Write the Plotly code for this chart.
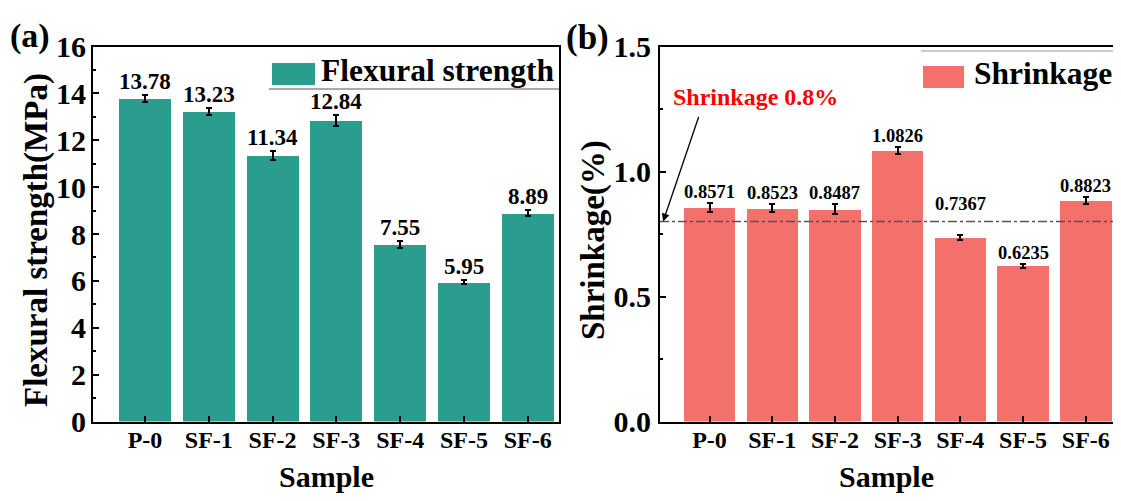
import plotly.graph_objects as go

# ---------------- data ----------------
samples = ["P-0", "SF-1", "SF-2", "SF-3", "SF-4", "SF-5", "SF-6"]
flexural = [13.78, 13.23, 11.34, 12.84, 7.55, 5.95, 8.89]
flexural_err = [0.15, 0.15, 0.20, 0.25, 0.15, 0.08, 0.12]
flexural_labels = ["13.78", "13.23", "11.34", "12.84", "7.55", "5.95", "8.89"]
shrinkage = [0.8571, 0.8523, 0.8487, 1.0826, 0.7367, 0.6235, 0.8823]
shrinkage_err = [0.018, 0.016, 0.020, 0.014, 0.010, 0.008, 0.014]
shrinkage_labels = ["0.8571", "0.8523", "0.8487", "1.0826", "0.7367", "0.6235", "0.8823"]
flex_ticks = [0, 2, 4, 6, 8, 10, 12, 14, 16]
shr_ticks = [0.0, 0.5, 1.0, 1.5]
shr_tick_text = ["0.0", "0.5", "1.0", "1.5"]
shrink_limit = 0.8

# page body has an 8px margin all round: size the figure so the page never overflows
OFF = 8
W, H = 1121 - 2 * OFF, 501 - 2 * OFF
FONT = "Liberation Serif"
TEAL = "#2A9D8F"
SALMON = "#F4716B"


def px(x):
    """screen x (px) -> paper fraction"""
    return (x - OFF) / W


def py(y):
    """screen y (px) -> paper fraction"""
    return 1 - (y - OFF) / H


fig = go.Figure()

fig.add_trace(go.Bar(
    x=samples, y=flexural, marker=dict(color=TEAL, line=dict(width=0)),
    width=0.815, xaxis="x", yaxis="y", showlegend=False,
    error_y=dict(type="data", array=flexural_err, color="black", thickness=2, width=3),
))
fig.add_trace(go.Bar(
    x=samples, y=shrinkage, marker=dict(color=SALMON, line=dict(width=0)),
    width=0.82, xaxis="x2", yaxis="y2", showlegend=False,
    error_y=dict(type="data", array=shrinkage_err, color="black", thickness=2, width=3),
))

ydom = [py(421.5), py(46.5)]
axis_common = dict(showline=True, linecolor="black", linewidth=2, showgrid=False,
                   zeroline=False, ticks="inside", tickcolor="black", tickwidth=2,
                   automargin=False)
tickfont = dict(family=FONT, size=30, color="black", weight="bold")
xtickfont = dict(family=FONT, size=24, color="black", weight="bold")

fig.update_layout(
    width=W, height=H, margin=dict(l=0, r=0, t=0, b=0, pad=0, autoexpand=False),
    paper_bgcolor="white", plot_bgcolor="white", bargap=0,
    xaxis=dict(domain=[px(93), px(559)], anchor="y", type="category",
               categoryorder="array", categoryarray=samples,
               range=[-0.815, 6.49], ticklen=6, mirror=True,
               tickfont=xtickfont, ticklabelstandoff=-4, **axis_common),
    yaxis=dict(domain=ydom, anchor="x", range=[0, 16], tickvals=flex_ticks,
               ticklen=6, mirror=True, tickfont=tickfont, ticklabelstandoff=-1,
               minor=dict(dtick=1, ticks="inside", ticklen=3, tickwidth=1.5, tickcolor="black"),
               **axis_common),
    xaxis2=dict(domain=[px(660), 1.0], anchor="y2", type="category",
                categoryorder="array", categoryarray=samples,
                range=[-0.79, 6.434], ticklen=6, mirror=True,
                tickfont=xtickfont, ticklabelstandoff=-4, **axis_common),
    yaxis2=dict(domain=ydom, anchor="x2", range=[0, 1.5], tickvals=shr_ticks,
                ticktext=shr_tick_text, ticklen=6, tickfont=tickfont, ticklabelstandoff=1,
                minor=dict(dtick=0.25, ticks="inside", ticklen=3, tickwidth=1.5, tickcolor="black"),
                **axis_common),
)

ann = []
# value labels
for s, v, e, t in zip(samples, flexural, flexural_err, flexural_labels):
    ann.append(dict(x=s, y=v + e, xref="x", yref="y", text=t, showarrow=False,
                    yanchor="bottom", yshift=-1,
                    font=dict(family=FONT, size=23, color="black", weight="bold")))
extra_shift = {"SF-4": 20}
for s, v, e, t in zip(samples, shrinkage, shrinkage_err, shrinkage_labels):
    ann.append(dict(x=s, y=v + e, xref="x2", yref="y2", text=t, showarrow=False,
                    yanchor="bottom", yshift=-1 + extra_shift.get(s, 0),
                    font=dict(family=FONT, size=18.5, color="black", weight="bold")))

# panel letters
ann.append(dict(x=px(8), y=py(36), xref="paper", yref="paper", text="(a)", showarrow=False,
                xanchor="left", yanchor="middle",
                font=dict(family=FONT, size=34, color="black", weight="bold")))
ann.append(dict(x=px(564), y=py(37), xref="paper", yref="paper", text="(b)", showarrow=False,
                xanchor="left", yanchor="middle",
                font=dict(family=FONT, size=35, color="black", weight="bold")))

# axis titles
title_font = dict(family=FONT, size=33, color="black", weight="bold")
ann.append(dict(x=px(36), y=py(240), xref="paper", yref="paper", text="Flexural strength(MPa)",
                textangle=-90, showarrow=False, xanchor="center", yanchor="middle", font=title_font))
ann.append(dict(x=px(593), y=py(240), xref="paper", yref="paper", text="Shrinkage(%)",
                textangle=-90, showarrow=False, xanchor="center", yanchor="middle", font=title_font))
sample_font = dict(family=FONT, size=30, color="black", weight="bold")
ann.append(dict(x=px(326), y=0, xref="paper", yref="paper", text="Sample",
                showarrow=False, xanchor="center", yanchor="bottom", yshift=-2, font=sample_font))
ann.append(dict(x=px(886.5), y=0, xref="paper", yref="paper", text="Sample",
                showarrow=False, xanchor="center", yanchor="bottom", yshift=-2, font=sample_font))

# legends (manual)
leg_font = dict(family=FONT, size=31.5, color="black", weight="bold")
ann.append(dict(x=px(319), y=py(71), xref="paper", yref="paper", text="Flexural strength",
                showarrow=False, xanchor="left", yanchor="middle", font=leg_font))
ann.append(dict(x=px(972), y=py(74), xref="paper", yref="paper", text="Shrinkage",
                showarrow=False, xanchor="left", yanchor="middle", font=leg_font))

# shrinkage limit text + arrow
ann.append(dict(x=px(755), y=py(97), xref="paper", yref="paper", text="Shrinkage 0.8%",
                showarrow=False, xanchor="center", yanchor="middle",
                font=dict(family=FONT, size=24, color="#FF0000", weight="bold")))
ann.append(dict(x=-0.74, y=shrink_limit, xref="x2", yref="y2", text="", showarrow=True,
                ax=36, ay=-106, arrowhead=2, arrowsize=1.2, arrowwidth=1.3,
                arrowcolor="black", standoff=0))

fig.update_layout(annotations=ann)

shapes = [
    # legend swatches
    dict(type="rect", xref="paper", yref="paper", x0=px(272), x1=px(315), y0=py(85), y1=py(63),
         fillcolor=TEAL, line=dict(width=0)),
    dict(type="rect", xref="paper", yref="paper", x0=px(923), x1=px(964), y0=py(88), y1=py(66),
         fillcolor=SALMON, line=dict(width=0)),
    # legend frame remnants
    dict(type="line", xref="paper", yref="paper", x0=px(269), x1=px(559), y0=py(89), y1=py(89),
         line=dict(color="#555555", width=1.2)),
    dict(type="line", xref="paper", yref="paper", x0=px(921), x1=1.0, y0=py(51), y1=py(51),
         line=dict(color="#BBBBBB", width=1.5)),
    # 0.8 % limit
    dict(type="line", xref="x2 domain", yref="y2", x0=0, x1=1, y0=shrink_limit, y1=shrink_limit,
         line=dict(color="#555555", width=1.3, dash="dashdot"), layer="above"),
]
fig.update_layout(shapes=shapes)

fig.write_html("out.html")
